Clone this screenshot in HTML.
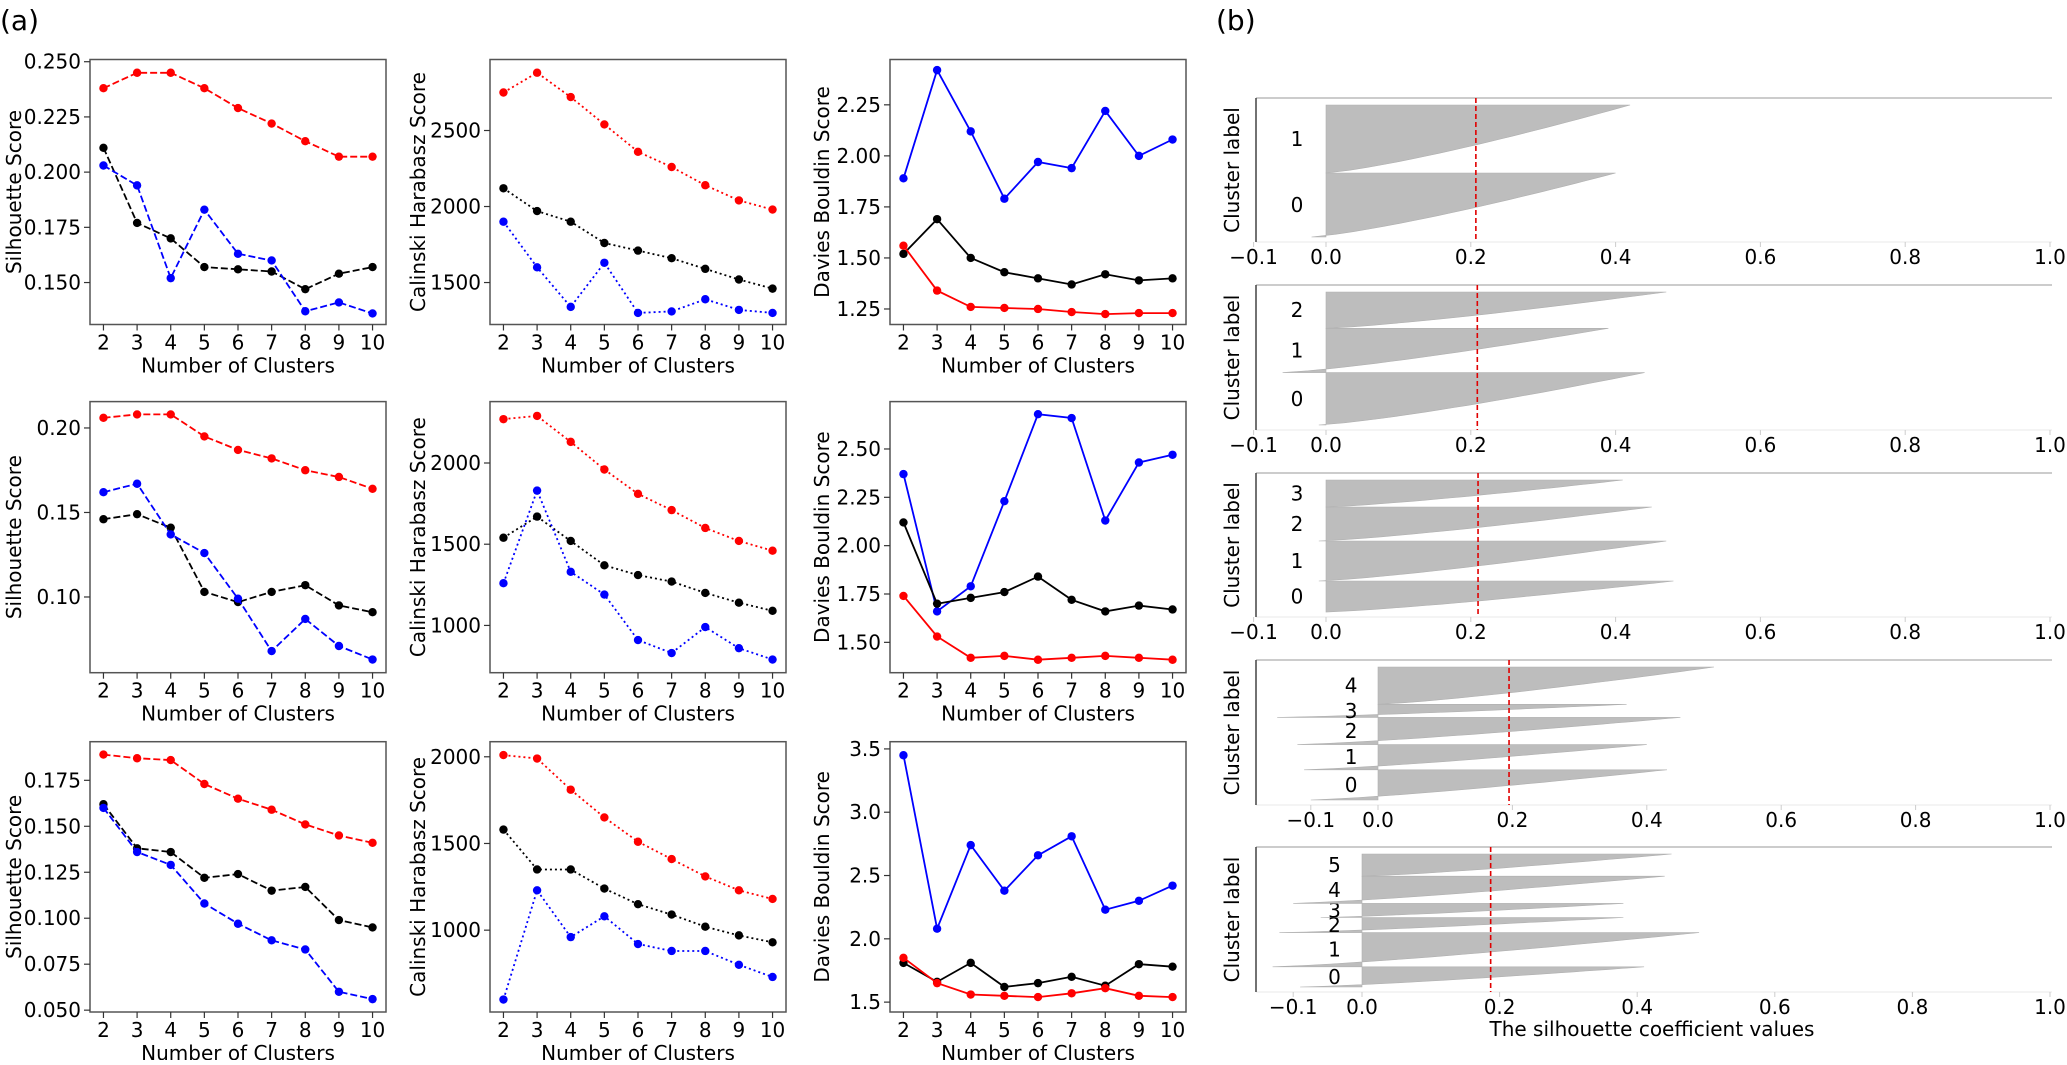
<!DOCTYPE html>
<html><head><meta charset="utf-8">
<style>
html,body{margin:0;padding:0;background:#fff;}
svg text{font-family:"DejaVu Sans","Liberation Sans",sans-serif;fill:#000;}
</style></head>
<body>
<svg id="fig" width="2067" height="1060" viewBox="0 0 2067 1060" xmlns="http://www.w3.org/2000/svg">
<text x="0" y="30" font-size="28">(a)</text>
<text x="1216" y="30" font-size="28">(b)</text>
</svg>
<script>
const NS="http://www.w3.org/2000/svg";
const svg=document.getElementById('fig');
function mk(tag,attrs,parent){const e=document.createElementNS(NS,tag);for(const k in attrs)e.setAttribute(k,attrs[k]);(parent||svg).appendChild(e);return e;}

// ---------------- DATA (panel a) ----------------
const clusterCounts=[2,3,4,5,6,7,8,9,10];
// Row 1
const r1SilRed=[.238,.245,.245,.238,.229,.222,.214,.207,.207];
const r1SilBlack=[.211,.177,.170,.157,.156,.155,.147,.154,.157];
const r1SilBlue=[.203,.194,.152,.183,.163,.160,.137,.141,.136];
const r1ChRed=[2750,2880,2720,2540,2360,2260,2140,2040,1980];
const r1ChBlack=[2120,1970,1900,1760,1710,1660,1590,1520,1460];
const r1ChBlue=[1900,1600,1340,1630,1300,1310,1390,1320,1300];
const r1DbBlue=[1.89,2.42,2.12,1.79,1.97,1.94,2.22,2.00,2.08];
const r1DbBlack=[1.52,1.69,1.50,1.43,1.40,1.37,1.42,1.39,1.40];
const r1DbRed=[1.56,1.34,1.26,1.255,1.25,1.235,1.225,1.23,1.23];
// Row 2
const r2SilRed=[.206,.208,.208,.195,.187,.182,.175,.171,.164];
const r2SilBlack=[.146,.149,.141,.103,.097,.103,.107,.095,.091];
const r2SilBlue=[.162,.167,.137,.126,.099,.068,.087,.071,.063];
const r2ChRed=[2270,2290,2130,1960,1810,1710,1600,1520,1460];
const r2ChBlack=[1540,1670,1520,1370,1310,1270,1200,1140,1090];
const r2ChBlue=[1260,1830,1330,1190,910,830,990,860,790];
const r2DbBlue=[2.37,1.66,1.79,2.23,2.68,2.66,2.13,2.43,2.47];
const r2DbBlack=[2.12,1.70,1.73,1.76,1.84,1.72,1.66,1.69,1.67];
const r2DbRed=[1.74,1.53,1.42,1.43,1.41,1.42,1.43,1.42,1.41];
// Row 3
const r3SilRed=[.189,.187,.186,.173,.165,.159,.151,.145,.141];
const r3SilBlack=[.162,.138,.136,.122,.124,.115,.117,.099,.095];
const r3SilBlue=[.160,.136,.129,.108,.097,.088,.083,.060,.056];
const r3ChRed=[2010,1990,1810,1650,1510,1410,1310,1230,1180];
const r3ChBlack=[1580,1350,1350,1240,1150,1090,1020,970,930];
const r3ChBlue=[600,1230,960,1080,920,880,880,800,730];
const r3DbBlue=[3.45,2.08,2.74,2.38,2.66,2.81,2.23,2.30,2.42];
const r3DbBlack=[1.81,1.66,1.81,1.62,1.65,1.70,1.63,1.80,1.78];
const r3DbRed=[1.85,1.65,1.56,1.55,1.54,1.57,1.61,1.55,1.54];
// Tick labels
const silTicks1=[0.150,0.175,0.200,0.225,0.250];
const silTicks2=[0.10,0.15,0.20];
const silTicks3=[0.050,0.075,0.100,0.125,0.150,0.175];
const chTicks1=[1500,2000,2500];
const chTicks2=[1000,1500,2000];
const chTicks3=[1000,1500,2000];
const dbTicks1=[1.25,1.50,1.75,2.00,2.25];
const dbTicks2=[1.50,1.75,2.00,2.25,2.50];
const dbTicks3=[1.5,2.0,2.5,3.0,3.5];

// ---------------- DATA (panel b) ----------------
const sizesK2=[64,68];
const maxK2=[0.40,0.42];
const minK2=[-0.02,0.0];
const sizesK3=[52,44,36];
const maxK3=[0.44,0.39,0.47];
const minK3=[-0.01,-0.06,0.0];
const sizesK4=[31,40,34,27];
const maxK4=[0.48,0.47,0.45,0.41];
const minK4=[0.0,-0.01,-0.01,0.0];
const sizesK5=[30,25,27,13,37];
const maxK5=[0.43,0.40,0.45,0.37,0.50];
const minK5=[-0.10,-0.11,-0.12,-0.15,0.0];
const sizesK6=[20,34,15,14,27,22];
const maxK6=[0.41,0.49,0.38,0.38,0.44,0.45];
const minK6=[-0.09,-0.13,-0.12,-0.06,-0.10,0.0];
const avgSil=[0.207,0.209,0.21,0.195,0.187];
const silXTicks=[-0.1,0.0,0.2,0.4,0.6,0.8,1.0];

// ---------------- line panels ----------------
const colX=[90,490,890], colW=296;
const yTitleX=[14,418,822];
const rowY=[[59.5,324.5],[401.6,672.7],[741.7,1012]];
function fmt(v,d){return (v<0?'\u2212':'')+Math.abs(v).toFixed(d);}
function linePanel(name,ci,ri,ylim,ticks,dec,ylabel,series){
  const L=colX[ci],R=L+colW,T=rowY[ri][0],B=rowY[ri][1];
  const g=mk('g',{});
  
  
  const xs=v=>L+(v-1.6)/(8.8)*(R-L);
  const ys=v=>B-(v-ylim[0])/(ylim[1]-ylim[0])*(B-T);
  const box=mk('rect',{x:L,y:T,width:R-L,height:B-T,fill:'none',stroke:'#555','stroke-width':1.5},g);
  
  clusterCounts.forEach(c=>{
    const x=xs(c);
    mk('line',{x1:x,x2:x,y1:B,y2:B+6,stroke:'#333','stroke-width':1.2},g);
    const t=mk('text',{x:x,y:B+25,'font-size':20,'text-anchor':'middle'},g);t.textContent=c;
    
  });
  ticks.forEach(v=>{
    const y=ys(v);
    mk('line',{x1:L-6,x2:L,y1:y,y2:y,stroke:'#333','stroke-width':1.2},g);
    const t=mk('text',{x:L-9,y:y+7,'font-size':20,'text-anchor':'end'},g);t.textContent=v.toFixed(dec);
    
  });
  const xl=mk('text',{x:(L+R)/2,y:B+48,'font-size':20,'text-anchor':'middle'},g);xl.textContent='Number of Clusters';
  
  const ylx=yTitleX[ci]+7;
  const yl=mk('text',{x:ylx,y:(T+B)/2,'font-size':20,'text-anchor':'middle',transform:`rotate(-90 ${ylx} ${(T+B)/2})`},g);yl.textContent=ylabel;
  
  series.forEach(s=>{
    const pts=s.vals.map((v,i)=>xs(clusterCounts[i]).toFixed(1)+','+ys(v).toFixed(1)).join(' ');
    const pl=mk('polyline',{points:pts,fill:'none',stroke:s.color,'stroke-width':1.8,'stroke-dasharray':s.dash||'none'},g);
    
    s.vals.forEach((v,i)=>{
      const c=mk('circle',{cx:xs(clusterCounts[i]),cy:ys(v),r:4.2,fill:s.color},g);
      
    });
  });
}
const DASH='7,3', DOT='2,3';
const rows=[
 {sil:[r1SilRed,r1SilBlack,r1SilBlue],silY:[0.131,0.251],silT:silTicks1,silD:3,
  ch:[r1ChRed,r1ChBlack,r1ChBlue],chY:[1224,2967],chT:chTicks1,
  db:[r1DbBlue,r1DbBlack,r1DbRed],dbY:[1.174,2.472],dbT:dbTicks1,dbD:2},
 {sil:[r2SilRed,r2SilBlack,r2SilBlue],silY:[0.0552,0.2156],silT:silTicks2,silD:2,
  ch:[r2ChRed,r2ChBlack,r2ChBlue],chY:[709,2378],chT:chTicks2,
  db:[r2DbBlue,r2DbBlack,r2DbRed],dbY:[1.343,2.745],dbT:dbTicks2,dbD:2},
 {sil:[r3SilRed,r3SilBlack,r3SilBlue],silY:[0.049,0.196],silT:silTicks3,silD:3,
  ch:[r3ChRed,r3ChBlack,r3ChBlue],chY:[528,2087],chT:chTicks3,
  db:[r3DbBlue,r3DbBlack,r3DbRed],dbY:[1.422,3.557],dbT:dbTicks3,dbD:1}
];
rows.forEach((r,ri)=>{
  linePanel('silhouette-chart-row'+(ri+1),0,ri,r.silY,r.silT,r.silD,'Silhouette Score',[
    {name:'red-series',vals:r.sil[0],color:'#ff0000',dash:DASH},
    {name:'black-series',vals:r.sil[1],color:'#000000',dash:DASH},
    {name:'blue-series',vals:r.sil[2],color:'#0000ff',dash:DASH}]);
  linePanel('calinski-chart-row'+(ri+1),1,ri,r.chY,r.chT,0,'Calinski Harabasz Score',[
    {name:'red-series',vals:r.ch[0],color:'#ff0000',dash:DOT},
    {name:'black-series',vals:r.ch[1],color:'#000000',dash:DOT},
    {name:'blue-series',vals:r.ch[2],color:'#0000ff',dash:DOT}]);
  linePanel('davies-bouldin-chart-row'+(ri+1),2,ri,r.dbY,r.dbT,r.dbD,'Davies Bouldin Score',[
    {name:'blue-series',vals:r.db[0],color:'#0000ff'},
    {name:'black-series',vals:r.db[1],color:'#000000'},
    {name:'red-series',vals:r.db[2],color:'#ff0000'}]);
});

// ---------------- silhouette panels ----------------
const bPanels=[
 {sizes:sizesK2,mx:maxK2,mn:minK2,T:98,B:242,x0:1326,unit:724},
 {sizes:sizesK3,mx:maxK3,mn:minK3,T:285,B:430,x0:1326,unit:724},
 {sizes:sizesK4,mx:maxK4,mn:minK4,T:473,B:617,x0:1326,unit:724},
 {sizes:sizesK5,mx:maxK5,mn:minK5,T:660,B:805,x0:1378,unit:672},
 {sizes:sizesK6,mx:maxK6,mn:minK6,T:847,B:992,x0:1362,unit:688}
];
const bL=1256,bR=2052;
bPanels.forEach((p,pi)=>{
  const g=mk('g',{});
  
  
  const xs=v=>p.x0+v*p.unit;
  mk('line',{x1:bL,x2:bR,y1:p.T,y2:p.T,stroke:'#bbb','stroke-width':1.5},g);
  mk('line',{x1:bL,x2:bR,y1:p.B,y2:p.B,stroke:'#eee','stroke-width':1.2},g);
  mk('line',{x1:bL,x2:bL,y1:p.T,y2:p.B,stroke:'#444','stroke-width':1.5},g);
  const total=p.sizes.reduce((a,b)=>a+b,0);
  const sT=p.T+7,sB=p.B-5;
  const sc=(sB-sT)/total;
  let yb=sB;
  p.sizes.forEach((n,ci)=>{
    const yt=yb-n*sc;
    const pts=[[xs(0),yt],[xs(p.mx[ci]),yt]];
    const N=24;
    for(let k=1;k<=N;k++){const t=1-k/N;const v=p.mn[ci]+(p.mx[ci]-p.mn[ci])*Math.pow(t,0.8);pts.push([xs(v),yt+(yb-yt)*k/N]);}
    pts.push([xs(0),yb]);
    const poly=mk('polygon',{points:pts.map(q=>q[0].toFixed(1)+','+q[1].toFixed(1)).join(' '),fill:'#bdbdbd',stroke:'#b0b0b0','stroke-width':0.6},g);
    
    const lbl=mk('text',{x:xs(-0.04),y:(yt+yb)/2+7,'font-size':20,'text-anchor':'middle'},g);lbl.textContent=ci;
    
    yb=yt;
  });
  const ax=xs(avgSil[pi]);
  const avg=mk('line',{x1:ax,x2:ax,y1:p.T,y2:p.B,stroke:'#e00000','stroke-width':1.6,'stroke-dasharray':'5,3'},g);
  
  silXTicks.forEach(v=>{
    const x=xs(v);
    if(x<bL-6)return;
    mk('line',{x1:x,x2:x,y1:p.B,y2:p.B+5,stroke:'#ccc','stroke-width':1},g);
    const t=mk('text',{x:x,y:p.B+22,'font-size':20,'text-anchor':'middle'},g);t.textContent=fmt(v,1);
    
  });
  const cy=(p.T+p.B)/2;
  const yl=mk('text',{x:1239,y:cy,'font-size':20,'text-anchor':'middle',transform:`rotate(-90 1239 ${cy})`},g);yl.textContent='Cluster label';
  
});
const bx=mk('text',{x:1652,y:1036,'font-size':20,'text-anchor':'middle'});bx.textContent='The silhouette coefficient values';


</script>
</body></html>
